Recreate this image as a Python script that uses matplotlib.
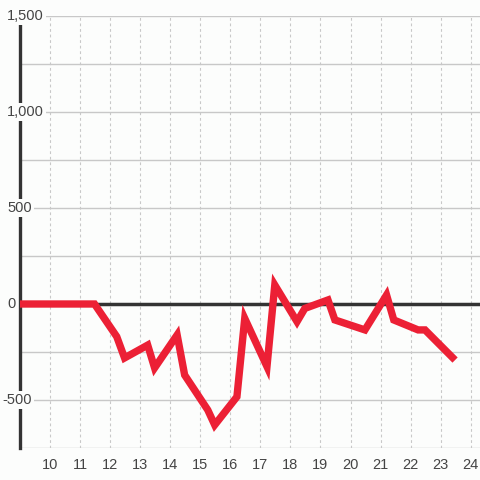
import matplotlib
matplotlib.use("Agg")
import matplotlib.pyplot as plt
from matplotlib.transforms import offset_copy

hours = [9.0, 11.48, 12.22, 12.48, 13.25, 13.48, 14.23, 14.48, 15.25, 15.48,
         16.22, 16.48, 17.22, 17.48, 18.22, 18.48, 19.25, 19.48, 20.48,
         21.2, 21.44, 22.25, 22.48, 23.48]
values = [0, 0, -170, -281, -214, -333, -161, -370, -552, -630,
          -483, -75, -326, 99, -92, -23, 21, -83, -135,
          47, -83, -135, -135, -292]
y_ticks = [-500, 0, 500, 1000, 1500]
x_ticks = list(range(10, 25))

bg = "#fcfdfc"
plt.rcParams["font.family"] = ["Liberation Sans", "DejaVu Sans"]

fig = plt.figure(figsize=(4.8, 4.8), dpi=100, facecolor=bg)
ax = fig.add_axes([20 / 480, 32 / 480, 460 / 480, 432 / 480], facecolor=bg)

ax.set_xlim(9, 24.31)
ax.set_ylim(-750, 1500)

# grid
for y in range(-750, 1501, 250):
    ax.axhline(y, color="#c8c8c8", lw=1.0, zorder=1)
for x in x_ticks:
    ax.axvline(x, color="#c8c8c8", lw=0.8, ls=(0, (2.5, 2.5)), zorder=1)

ax.axhline(0, color="#333333", lw=2.5, zorder=2)
ax.plot(hours, values, color="#ec2035", lw=5.3, solid_joinstyle="miter",
        solid_capstyle="butt", zorder=3)

for s in ["top", "right", "bottom"]:
    ax.spines[s].set_visible(False)
ax.spines["left"].set_color("#333333")
ax.spines["left"].set_linewidth(2.4)
ax.spines["left"].set_zorder(2)

ax.set_yticks([])
ax.set_xticks(x_ticks)
ax.set_xticklabels([str(x) for x in x_ticks], fontsize=10.5, color="#444444")
ax.tick_params(axis="x", length=0, pad=7)

# y labels sit over the spine with a background box
for y in y_ticks:
    label = f"{y:,}"
    dx = 7 - (4.7 if y < 0 else 0) - 20
    tr = offset_copy(ax.get_yaxis_transform(), fig=fig, x=dx * 0.72, y=0, units="points")
    ax.text(0, y, label, transform=tr, ha="left", va="center", fontsize=10.5,
            color="#444444", zorder=5,
            bbox=dict(boxstyle="square,pad=0.15", fc=bg, ec="none"))

fig.savefig("out.png", dpi=100, facecolor=bg)
